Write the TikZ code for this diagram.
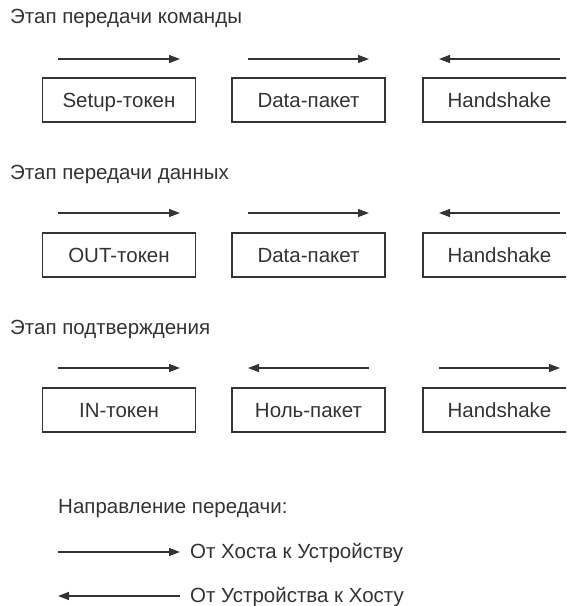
\documentclass[tikz,border=0pt]{standalone}
\usepackage{fontspec}
\setmainfont{Liberation Sans}
\usetikzlibrary{arrows.meta}
\definecolor{ink}{HTML}{333333}
\begin{document}
\begin{tikzpicture}[x=1pt,y=-1pt,
  every node/.style={font=\fontsize{20.5}{24}\selectfont, text=ink, inner sep=0pt},
  pkt/.style={draw=ink, line width=1.6pt, minimum width=153pt, minimum height=44pt, text height=14.7pt, text depth=0pt},
  arr/.style={draw=ink, line width=1.3pt, -{Triangle[length=11pt,width=8pt]}},
  lbl/.style={anchor=base west}]
\useasboundingbox (0,0) rectangle (566,606);
\clip (0,0) rectangle (566,606);
% stage titles
\node[lbl] (t1) at (10,23) {Этап передачи команды};
\node[lbl] (t2) at (10,179) {Этап передачи данных};
\node[lbl] (t3) at (10,334) {Этап подтверждения};
% row 1
\node[pkt] (b11) at (119,100) {Setup-токен};
\node[pkt] (b12) at (308.5,100) {Data-пакет};
\node[pkt] (b13) at (499.5,100) {Handshake};
% row 2
\node[pkt] (b21) at (119,255) {OUT-токен};
\node[pkt] (b22) at (308.5,255) {Data-пакет};
\node[pkt] (b23) at (499.5,255) {Handshake};
% row 3
\node[pkt] (b31) at (119,410) {IN-токен};
\node[pkt] (b32) at (308.5,410) {Ноль-пакет};
\node[pkt] (b33) at (499.5,410) {Handshake};
% arrow end points
\coordinate (p1a) at (58,59);  \coordinate (p1b) at (180,59);
\coordinate (p2a) at (248,59); \coordinate (p2b) at (369,59);
\coordinate (p3a) at (439,59); \coordinate (p3b) at (560,59);
\coordinate (q1a) at (58,213);  \coordinate (q1b) at (180,213);
\coordinate (q2a) at (248,213); \coordinate (q2b) at (369,213);
\coordinate (q3a) at (439,213); \coordinate (q3b) at (560,213);
\coordinate (s1a) at (58,368);  \coordinate (s1b) at (180,368);
\coordinate (s2a) at (248,368); \coordinate (s2b) at (369,368);
\coordinate (s3a) at (439,368); \coordinate (s3b) at (560,368);
\draw[arr] (p1a) -- (p1b);
\draw[arr] (p2a) -- (p2b);
\draw[arr] (p3b) -- (p3a);
\draw[arr] (q1a) -- (q1b);
\draw[arr] (q2a) -- (q2b);
\draw[arr] (q3b) -- (q3a);
\draw[arr] (s1a) -- (s1b);
\draw[arr] (s2b) -- (s2a);
\draw[arr] (s3a) -- (s3b);
% legend
\node[lbl] (lt) at (58,513) {Направление передачи:};
\coordinate (l1a) at (58,552); \coordinate (l1b) at (180,552);
\coordinate (l2a) at (58,596); \coordinate (l2b) at (180,596);
\draw[arr] (l1a) -- (l1b);
\draw[arr] (l2b) -- (l2a);
\node[lbl] (lx1) at (190,558) {От Хоста к Устройству};
\node[lbl] (lx2) at (190,602) {От Устройства к Хосту};
\end{tikzpicture}
\end{document}
